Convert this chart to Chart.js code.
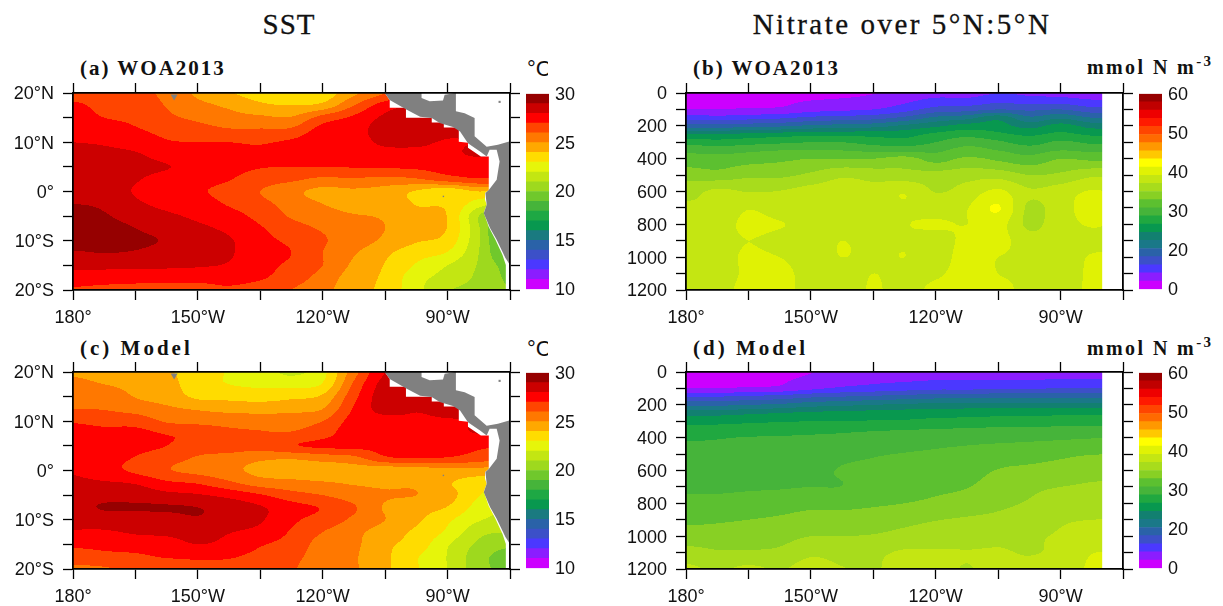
<!DOCTYPE html>
<html>
<head>
<meta charset="utf-8">
<script src="https://cdn.jsdelivr.net/npm/chart.js@4"></script>
<style>
  html, body { margin: 0; padding: 0; background: #fff; width: 1223px; height: 606px; overflow: hidden; }
  canvas { position: absolute; }
  .txt { position: absolute; white-space: nowrap; color: #111; }
  .head { font: 29px "Liberation Serif"; letter-spacing: 2.5px; transform: translateX(-50%); -webkit-text-stroke: 0.3px #111; }
  .tag { font: bold 21px "Liberation Serif"; letter-spacing: 2px; }
  .unit { font: bold 20px "Liberation Serif"; letter-spacing: 2.4px; }
  .unit sup { font-size: 15px; line-height: 0; }
  .degc { font: 22px "Liberation Sans"; width: 21px; overflow: hidden; }
</style>
</head>
<body>
<div class="txt head" style="left:289px;top:8px;letter-spacing:1px">SST</div>
<div class="txt head" style="left:902px;top:8px">Nitrate over 5°N:5°N</div>
<div class="txt tag" style="left:80px;top:56px">(a) WOA2013</div>
<div class="txt tag" style="left:693px;top:56px">(b) WOA2013</div>
<div class="txt tag" style="left:80px;top:336px;letter-spacing:3px">(c) Model</div>
<div class="txt tag" style="left:693px;top:336px;letter-spacing:3px">(d) Model</div>
<div class="txt degc" style="left:527px;top:56px">°C</div>
<div class="txt degc" style="left:527px;top:336px">°C</div>
<div class="txt unit" style="left:1087px;top:56px">mmol N m<sup>-3</sup></div>
<div class="txt unit" style="left:1087px;top:337px">mmol N m<sup>-3</sup></div>

<script>
// grid axes of the fields
const lonNodes = [180, 187.5, 195, 202.5, 210, 217.5, 225, 232.5, 240, 247.5, 255, 262.5, 270, 277.5, 285];
const latNodes = [20, 17.5, 15, 12.5, 10, 7.5, 5, 2.5, 0, -2.5, -5, -7.5, -10, -12.5, -15, -17.5, -20];
const depthNodes = [0, 50, 100, 150, 200, 250, 300, 350, 400, 500, 600, 700, 800, 900, 1000, 1100, 1200];

// tick labels
const lonLabels = ['180°', '', '150°W', '', '120°W', '', '90°W', ''];
const latLabels = ['20°S', '', '10°S', '', '0°', '', '10°N', '', '20°N'];
const depthLabels = ['0', '', '200', '', '400', '', '600', '', '800', '', '1000', '', '1200'];
const nitrateBarLabels = ['0', '20', '30', '40', '50', '60'];
const sstBarLabels = ['10', '15', '20', '25', '30'];

// colour bars, lowest band first
const sstColors = ['#cc00ff', '#8b1dff', '#4b38ff', '#3c50c8', '#2a62a8', '#1a7a80', '#08984f', '#1ea844', '#46b43a', '#70c82c',
  '#9ed91e', '#c3e612', '#e6f50a', '#ffdc00', '#ffa800', '#ff7800', '#ff4500', '#ff0000', '#cc0000', '#960000'];
const nitrateColors = ['#cc00ff', '#8b1dff', '#4b38ff', '#3c50c8', '#2a62a8', '#1a7888', '#128070', '#08984f', '#20a840', '#46b43a', '#5cc030', '#88d024',
  '#a8dc1c', '#c4e612', '#e0f204', '#ffff00', '#ffc800', '#ff9800', '#ff6a00', '#ff4500', '#ff1a00', '#ee0000', '#c00000', '#960000'];

// SST, one row per longitude, 20N to 20S
const sstObs = [
  [26.5,27.2,27.4,27.7,28.0,28.2,28.4,28.6,28.8,29.0,29.4,29.6,29.3,28.9,28.3,27.5,26.9],
  [26.4,26.7,27.0,27.4,27.9,28.2,28.4,28.5,28.7,28.85,29.1,29.4,29.3,29.0,28.3,27.4,26.8],
  [26.2,26.5,26.8,27.1,27.6,28.1,28.3,28.1,27.9,28.2,28.6,29.0,29.2,28.9,28.3,27.3,26.8],
  [25.8,25.95,26.2,26.7,27.1,27.6,28.05,27.6,27.3,27.7,28.2,28.6,28.9,28.6,28.2,27.3,26.7],
  [24.8,25.3,25.8,26.4,27.0,27.4,27.6,27.3,27.1,27.4,27.8,28.2,28.4,28.4,28.1,27.3,26.7],
  [24.1,24.8,25.4,26.1,27.0,27.3,27.3,27.05,26.7,26.9,27.4,27.8,28.1,28.1,27.9,27.3,26.9],
  [23.6,24.2,25.2,26.1,26.9,27.2,27.05,26.5,26.0,26.3,26.7,27.1,27.3,27.4,27.3,27.1,26.6],
  [23.3,24.0,25.1,26.2,27.2,27.5,27.0,26.2,25.3,25.6,25.9,26.4,26.8,27.0,26.8,26.5,26.0],
  [23.4,24.3,26.4,27.4,27.7,27.5,27.0,25.8,24.7,25.0,25.5,25.9,26.1,26.0,26.0,25.6,25.3],
  [24.8,26.0,27.2,27.6,27.6,27.5,27.05,25.9,24.8,24.6,25.1,25.6,25.5,25.1,24.8,24.5,24.4],
  [26.0,27.5,28.2,28.5,28.2,27.6,27.1,25.7,24.6,24.7,24.9,25.0,24.8,24.2,23.95,23.8,23.7],
  [27.0,28.0,28.6,28.7,28.2,27.7,27.2,25.9,23.9,23.95,24.4,24.5,24.1,23.4,22.9,22.4,22.3],
  [27.0,28.0,28.3,28.3,27.9,27.8,27.4,26.5,23.3,23.8,23.95,23.95,23.6,22.9,22.0,21.6,21.1],
  [27.0,27.5,28.0,28.0,28.0,28.1,27.3,26.9,24.0,22.5,21.0,21.1,21.1,21.0,20.9,20.8,20.7],
  [27.0,27.5,27.5,27.5,27.5,27.8,27.2,26.8,23.5,21.5,18.5,17.5,18.0,18.5,19.5,19.8,20.0]
];
const sstModel = [
  [24.8,25.4,25.8,26.0,26.9,27.4,27.5,27.6,27.9,28.2,28.5,28.6,28.3,27.9,27.2,26.5,25.8],
  [24.5,25.0,25.7,25.95,26.7,27.3,27.5,27.3,27.4,28.1,28.6,29.1,28.4,27.9,27.3,26.7,25.9],
  [24.4,24.7,24.95,25.6,26.6,27.3,27.3,26.95,26.8,27.9,28.6,29.1,28.5,28.1,27.5,26.8,26.2],
  [24.1,24.4,24.6,25.2,25.9,26.95,27.0,26.4,26.1,27.2,28.3,29.1,28.6,28.2,27.6,27.1,26.05],
  [23.6,23.4,23.8,24.9,25.7,26.8,26.5,25.9,25.7,26.9,28.1,29.0,28.9,28.4,28.0,27.2,26.5],
  [22.9,23.0,23.7,24.7,25.6,26.3,26.5,25.6,25.3,26.2,27.7,28.6,28.5,28.05,27.7,27.1,26.6],
  [22.5,22.8,23.6,24.6,25.6,26.1,26.4,25.2,24.7,25.5,27.1,28.1,28.1,27.7,27.1,26.7,26.3],
  [21.8,22.7,23.8,24.7,25.6,26.1,26.9,25.1,24.5,25.3,26.4,27.4,27.2,26.9,26.6,26.3,26.1],
  [22.7,23.1,24.2,25.0,26.0,26.6,27.2,25.4,24.4,25.1,26.0,26.9,26.6,26.0,25.6,25.5,25.3],
  [25.6,26.2,26.7,27.1,27.4,27.6,27.3,25.7,24.5,24.9,25.5,26.1,25.8,25.3,25.2,25.1,25.1],
  [28.0,28.4,28.6,28.4,27.6,27.5,27.3,26.8,24.3,24.8,25.1,24.9,25.0,24.5,24.2,24.2,24.2],
  [28.0,28.5,28.5,28.1,27.8,27.7,27.4,27.0,24.4,24.8,25.0,24.4,24.2,23.8,23.6,23.1,23.1],
  [28.0,28.3,28.3,28.3,27.9,27.7,27.5,26.9,24.7,24.1,24.4,23.95,23.2,22.8,22.1,21.95,22.0],
  [28.0,28.0,28.0,28.0,28.0,28.0,27.2,26.5,24.6,23.5,23.05,22.6,22.1,21.3,20.8,20.4,20.4],
  [27.6,27.6,27.6,27.6,27.6,27.6,27.0,26.2,24.4,23.2,22.3,22.0,21.6,21.0,20.2,19.5,19.6]
];

// nitrate, one row per longitude, surface to 1200 m
const nitrateObs = [
  [1,1.8,2.5,6.5,11,17.5,21.5,24.5,26,29,31.5,33,33.5,33.5,33.5,33.5,33.5],
  [1,1.8,2.6,6,11,17.5,21,24,26,28.5,33,32.6,33.5,33.8,33.7,33.7,33.8],
  [1,1.9,2.8,6.5,11.5,18,21.5,24.5,26.5,29.5,32.4,34.8,35.8,35,35.5,35.5,36],
  [1,2,3,7,12,18.5,22,25,27,29.5,32.6,33.5,35.2,34,35,35.8,36],
  [1.5,2.6,4,8,13,19,22.5,25,27.5,30.5,33.5,33.8,34,34,34,34,34],
  [1.8,3,4.5,8.5,13.5,19,22.5,25,27.5,32,33.8,34,34.3,35,35,34,33.8],
  [2.4,3.5,5,9,14,19,21.5,24.5,27.5,31.5,33.4,33.8,34,34.3,34.5,35,35.2],
  [3,4.5,6.5,10.5,15.5,19,21,24.5,28.5,31,34.8,34.7,34.9,34.8,35,34.3,34.2],
  [4,6,8.5,13,17,20.5,22.5,24.5,26.5,31,32.4,34,35.2,34.2,33.9,34.6,35.6],
  [4,6,9,14,18.5,21.5,24,26,28,31.5,33.5,34.9,35,35.5,36,36,36],
  [5,7,10,16.5,18.5,20.5,23,25,27,31.5,35.5,37.7,36,35.9,35,35,35.5],
  [4.5,6.5,9.5,13,16.5,19.5,21.5,24,26,30,32.8,32,32,33.5,34.6,34.7,34.5],
  [4,6.5,10,14.5,18.5,20.5,23,25,27.5,30.5,33.8,34,34,33.8,33.8,33.5,33.8],
  [3.5,5.5,8.5,12.5,16.5,19.5,22,24.5,27,32,35.2,36,35.2,34.3,35.2,35.5,35.5],
  [3.5,5.5,8.5,12.5,16.5,19.5,22,24.5,27,32,34.5,35.5,34.5,34.5,35.3,35.5,35.5]
];
const nitrateModel = [
  [1,1.8,2.5,7.5,12,16.5,19,21,22.3,23,23.8,24.5,25.7,27,28.6,31,33],
  [1,1.8,2.6,7.5,12,16.5,19.2,21,22.4,23,23.8,24.5,25.8,27.2,28.6,30.3,32.2],
  [1,1.9,2.9,8,12.5,17,19.5,21.3,22.6,23.1,23.9,24.7,26,27.5,29,30.3,33],
  [1.2,2.1,3.2,8.5,13,17.5,19.8,21.5,22.7,23.2,24,24.8,26.3,27.9,29.2,30.5,32.3],
  [2.4,3.3,4.5,9.5,14,18,20,21.8,22.8,23.4,24.2,25,26.8,28.5,30,32,33.5],
  [3,4,5.5,10,14.5,18.2,20,22,23,24.3,25.2,25.05,26.9,28.3,30,31.6,32.6],
  [3.5,4.5,6,10.5,15,18.5,20.2,22.2,23.4,24.8,25.5,26.2,27.2,28.6,30.2,32,32.4],
  [3.5,4.7,6.5,11,15.5,18.7,20.3,22.4,23.6,25.1,25.8,26.6,27.5,29.3,30.8,32.8,33],
  [3.6,5,7,11.5,15.8,19,20.6,22.6,24,25.4,26.2,27,28,29.9,31.2,32.8,33.2],
  [3.7,5,7,11.5,16,19,20.8,22.8,24.2,25.8,26.6,27.4,28.6,30.3,31.6,32.6,32.4],
  [3.8,5,7.2,12,16,19.2,21,23,24.3,26.4,27.6,28.6,29.5,30.6,32,32.7,33.4],
  [3.9,5.1,7.4,12,16,19.2,21,23,24.5,26.6,28,29.5,30.2,31.1,32.2,32.4,33],
  [3.9,5.2,7.5,12,16,19.4,21.2,23.3,24.7,27,28.4,30,31,32.2,32.7,33,33.5],
  [4,5.3,7.5,12,16,19.4,21.3,23.5,24.9,27.4,29.2,30.3,31.3,32.5,33.2,34.9,35.4],
  [4,5.3,7.5,12,16,19.4,21.3,23.5,25,27.5,29.3,30.3,31.3,32.5,33.2,35,35.5]
];

// coast outline, longitude east of 0 and latitude
const landLon = [254.9,263.75,263.75,265.7,268.9,269.3,272,272,274.1,276.5,276.5,279.4,282.1,285,285,283.9,281.8,280.2,278.7,279.4,279.1,279.9,281.8,282.5,281.8,280.1,279.4,277.8,274.9,273,271.3,268.1,266.2,263.4,260.2,256.1];
const landLat = [20,20,19,18.3,18.5,19.65,20,16.3,15.9,14.9,11.2,9.1,9.5,10.2,-14.9,-13.5,-9.8,-7.4,-4.4,-2.7,-0.3,0.3,2.4,6.1,8.5,8.5,7.1,8.1,9.8,12.2,13.1,13.9,14.9,15.2,16.6,18.6];
// edge of the ocean data, everything east of it has no value
const seaEdgeLon = [254.9,256.1,256.1,260,260,266.2,266.2,269.1,269.1,272.7,272.7,274.9,274.9,278,279.9,279.9,279,279,279.4,278.7,279.9,281.5,283.2,284,284,285,285];
const seaEdgeLat = [20,18.6,17,17,15,15,14,14,13,13,10.1,9.9,8.9,7.1,7.1,0.3,-0.3,-1.7,-2.7,-4.3,-7.2,-9.8,-12.9,-14.9,-20,-20,20];
const islandLon = [204.3, 269, 282.5];
const islandLat = [19.3, -1, 18.2];
// nitrate section stops here
const sectionEndLon = [280, 285, 285, 280];
const sectionEndDepth = [0, 0, 1200, 1200];

// colour bar tick places
const sstBarTicks = [10, 15, 20, 25, 30];
const nitrateBarTicks = [0, 12, 24, 36, 48, 60];

function zip(xs, ys) {
  return xs.map(function (x, i) { return { x: x, y: ys[i] }; });
}

function hexRgb(h) {
  return [parseInt(h.slice(1, 3), 16), parseInt(h.slice(3, 5), 16), parseInt(h.slice(5, 7), 16)];
}

// position of v in a node list, as a fractional index
function fracIndex(nodes, v) {
  for (let i = 0; i < nodes.length - 1; i++) {
    const a = nodes[i], b = nodes[i + 1];
    if ((v >= a && v <= b) || (v <= a && v >= b)) return i + (v - a) / (b - a);
  }
  return v < nodes[0] === nodes[0] < nodes[1] ? 0 : nodes.length - 1;
}

function catmull(p0, p1, p2, p3, t) {
  return p1 + 0.5 * t * (p2 - p0 + t * (2 * p0 - 5 * p1 + 4 * p2 - p3 + t * (3 * (p1 - p2) + p3 - p0)));
}

function sampleGrid(grid, fx, fy) {
  const nx = grid.length, ny = grid[0].length;
  const ix = Math.min(Math.floor(fx), nx - 2), iy = Math.min(Math.floor(fy), ny - 2);
  const tx = fx - ix, ty = fy - iy;
  const col = function (i) {
    const c = grid[Math.max(0, Math.min(nx - 1, i))];
    return catmull(c[Math.max(iy - 1, 0)], c[iy], c[iy + 1], c[Math.min(iy + 2, ny - 1)], ty);
  };
  const v = catmull(col(ix - 1), col(ix), col(ix + 1), col(ix + 2), tx);
  const corners = [grid[ix][iy], grid[ix + 1][iy], grid[ix][iy + 1], grid[ix + 1][iy + 1]];
  const lo = Math.min.apply(null, corners), hi = Math.max.apply(null, corners), pad = (hi - lo) * 0.2;
  return Math.max(lo - pad, Math.min(hi + pad, v));
}

// shaded bands of the field, drawn under the datasets through the chart scales
function bandsPlugin(xNodes, yNodes, grid, base, step, colors) {
  const rgb = colors.map(hexRgb);
  return {
    id: 'bands',
    beforeDatasetsDraw: function (chart) {
      const area = chart.chartArea, sx = chart.scales.x, sy = chart.scales.y;
      const w = Math.round(area.width), h = Math.round(area.height);
      const off = document.createElement('canvas');
      off.width = w; off.height = h;
      const octx = off.getContext('2d');
      const img = octx.createImageData(w, h);
      for (let j = 0; j < h; j++) {
        const fy = fracIndex(yNodes, sy.getValueForPixel(area.top + j + 0.5));
        for (let i = 0; i < w; i++) {
          const fx = fracIndex(xNodes, sx.getValueForPixel(area.left + i + 0.5));
          const v = sampleGrid(grid, fx, fy);
          const band = Math.max(0, Math.min(colors.length - 1, Math.floor((v - base) / step)));
          const k = 4 * (j * w + i), c = rgb[band];
          img.data[k] = c[0]; img.data[k + 1] = c[1]; img.data[k + 2] = c[2]; img.data[k + 3] = 255;
        }
      }
      octx.putImageData(img, 0, 0);
      const ctx = chart.ctx;
      ctx.save();
      ctx.beginPath();
      ctx.rect(area.left, area.top, area.width, area.height);
      ctx.clip();
      ctx.drawImage(off, area.left, area.top);
      ctx.filter = 'blur(0.6px)';
      ctx.drawImage(off, area.left, area.top);
      ctx.restore();
    }
  };
}

function addCanvas(left, top, w, h) {
  const c = document.createElement('canvas');
  c.width = w; c.height = h;
  c.style.left = left + 'px'; c.style.top = top + 'px';
  c.style.width = w + 'px'; c.style.height = h + 'px';
  document.body.appendChild(c);
  return c;
}

const tickFont = { family: '"Liberation Sans"', size: 18 };
const tickGrid = { drawOnChartArea: false, drawTicks: true, tickLength: 10, tickColor: '#000', tickWidth: 1.3, color: '#000', z: 2 };
const axisBorder = { display: true, color: '#000', width: 1.8, z: 2 };

function fixedH(px) { return function (s) { s.height = px; }; }
function fixedW(px) { return function (s) { s.width = px; }; }

function xAxis(position, withLabels) {
  return {
    type: 'linear', position: position, min: 180, max: 285,
    border: axisBorder, grid: tickGrid,
    afterFit: fixedH(position === 'bottom' ? 38 : 24),
    ticks: {
      display: withLabels, stepSize: 15, autoSkip: false, maxRotation: 0, padding: 7, color: '#111', font: tickFont,
      callback: function (v) { return lonLabels[(v - 180) / 15]; }
    }
  };
}

function yAxis(position, withLabels, depth) {
  return {
    type: 'linear', position: position, reverse: depth,
    min: depth ? 0 : -20, max: depth ? 1200 : 20,
    border: axisBorder, grid: tickGrid,
    afterFit: fixedW(position === 'left' ? 72 : 12),
    ticks: {
      display: withLabels, stepSize: depth ? 100 : 5, autoSkip: false, padding: 9, labelOffset: 1.5, color: '#111', font: tickFont,
      callback: function (v) { return depth ? depthLabels[v / 100] : latLabels[(v + 20) / 5]; }
    }
  };
}

function fieldChart(left, top, grid, depth) {
  const datasets = [];
  const shape = function (pts, color, order) {
    return { data: pts, showLine: true, fill: 'shape', backgroundColor: color, borderWidth: 0, pointRadius: 0, order: order };
  };
  if (depth) {
    datasets.push(shape(zip(sectionEndLon, sectionEndDepth), '#fff', 1));
  } else {
    datasets.push({ data: zip(islandLon, islandLat), pointStyle: ['triangle', 'rect', 'rect'], rotation: [180, 0, 0], pointRadius: [4, 1, 1.5], backgroundColor: '#808080', borderWidth: 0, order: 0 });
    datasets.push(shape(zip(landLon, landLat), '#808080', 1));
    datasets.push(shape(zip(seaEdgeLon, seaEdgeLat), '#fff', 2));
  }
  const canvas = addCanvas(left - 72, top - 24, 72 + 437 + 12, 24 + 197 + 38);
  return new Chart(canvas, {
    type: 'scatter',
    data: { datasets: datasets },
    options: {
      responsive: false, animation: false, events: [],
      layout: { padding: 0 },
      plugins: { legend: { display: false }, tooltip: { enabled: false } },
      scales: {
        x: xAxis('bottom', true),
        xTop: xAxis('top', false),
        y: yAxis('left', true, depth),
        yRight: yAxis('right', false, depth)
      }
    },
    plugins: [depth ? bandsPlugin(lonNodes, depthNodes, grid, 0, 2.5, nitrateColors)
                    : bandsPlugin(lonNodes, latNodes, grid, 10, 1, sstColors)]
  });
}

function colorBar(left, top, colors, base, step, tickValues, tickText) {
  const canvas = addCanvas(left, top - 16, 23 + 56, 16 + 197 + 16);
  const sets = colors.map(function (c, i) {
    const lo = base + i * step;
    return { data: [[lo, lo + step]], backgroundColor: c, borderWidth: 0, barPercentage: 1, categoryPercentage: 1, grouped: false };
  });
  return new Chart(canvas, {
    type: 'bar',
    data: { labels: [''], datasets: sets },
    options: {
      responsive: false, animation: false, events: [],
      layout: { padding: { top: 16, bottom: 16 } },
      plugins: { legend: { display: false }, tooltip: { enabled: false } },
      scales: {
        x: { display: false },
        y: {
          position: 'right', min: base, max: base + step * colors.length,
          border: { display: false }, grid: { display: false, drawTicks: false },
          afterBuildTicks: function (s) { s.ticks = tickValues.map(function (v) { return { value: v }; }); },
          afterFit: fixedW(56),
          ticks: {
            padding: 6, labelOffset: 1, color: '#111', font: tickFont, autoSkip: false,
            callback: function (v) { return tickText[tickValues.indexOf(v)]; }
          }
        }
      }
    }
  });
}

fieldChart(73, 93, sstObs, false);
fieldChart(686, 93, nitrateObs, true);
fieldChart(73, 372, sstModel, false);
fieldChart(686, 372, nitrateModel, true);

colorBar(526, 93, sstColors, 10, 1, sstBarTicks, sstBarLabels);
colorBar(526, 372, sstColors, 10, 1, sstBarTicks, sstBarLabels);
colorBar(1139, 93, nitrateColors, 0, 2.5, nitrateBarTicks, nitrateBarLabels);
colorBar(1139, 372, nitrateColors, 0, 2.5, nitrateBarTicks, nitrateBarLabels);
</script>
</body>
</html>
